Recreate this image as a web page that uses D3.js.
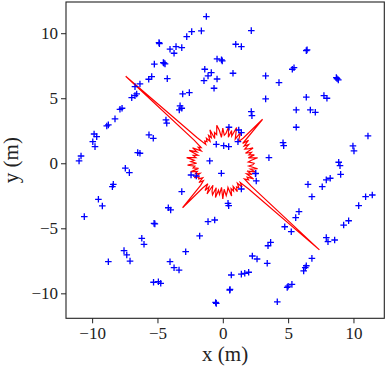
<!DOCTYPE html>
<html lang="en">
<head>
<meta charset="utf-8">
<title>Scan points and polar profile</title>
<script src="https://d3js.org/d3.v7.min.js"></script>
<style>
  body { margin: 0; background: #fff; }
  .tick text { font-family: "Liberation Serif", "DejaVu Serif", serif; }
</style>
</head>
<body>
<script>
// blue scan points (m)
var pointsX = [-2.38,-2.76,-4.88,-4.04,-3.58,-3.14,-3.73,-4.55,-4.42,-5.24,-4.25,-5.67,-5.44,-6.34,-6.72,-6.97,-6.72,-6.59,-3.07,-2.56,
  -7.87,-7.71,-8.25,-8.88,-8.76,-3.27,-3.14,-3.33,-4.35,-4.29,-9.85,-9.95,-9.78,-9.65,-5.65,-5.32,-6.51,-6.34,-10.85,-11.0,
  -7.46,-7.15,-8.38,-2.43,-1.26,-1.64,2.18,0.99,1.42,-0.44,-0.04,6.39,-1.38,-0.88,-1.13,-1.44,-0.44,0.78,-0.67,5.45,
  5.32,3.28,4.3,8.69,8.84,3.28,6.39,7.74,7.97,5.62,6.7,7.08,2.18,2.23,5.62,0.47,1.22,1.42,1.16,-0.5,
  0.07,0.45,4.61,4.66,11.11,9.96,10.04,3.53,-1.0,8.87,8.97,9.02,2.52,2.56,-0.11,6.52,7.92,8.22,-2.03,-8.45,
  -9.52,-9.22,-10.6,-3.14,-4.17,-3.99,-5.26,-6.2,-6.03,-7.56,-7.35,-7.1,-8.76,-2.84,-4.04,-3.73,-3.35,-4.93,-4.75,1.42,
  0.4,0.45,-1.13,-0.62,-1.77,7.61,6.82,5.58,5.83,4.74,5.24,3.66,3.46,2.26,2.62,3.4,0.65,1.42,1.68,1.98,
  0.53,-0.5,4.17,4.93,5.29,6.19,6.31,6.39,6.82,7.92,8.05,8.56,9.25,9.63,10.4,10.93,11.44,
  -0.1,6.45,8.75,-5.2,-4.5,-0.55,0.55,-5.3,-4.85,2.5,5.0];
var pointsY = [10.12,9.74,9.28,8.77,8.97,8.89,8.46,7.74,7.64,7.62,6.51,6.46,6.66,6.1,5.89,5.05,5.2,5.33,5.33,5.43,
  4.15,4.23,3.41,2.87,2.95,4.41,4.23,4.1,3.33,3.08,2.25,1.66,1.28,2.05,2.18,1.92,0.82,0.77,0.56,0.18,
  -0.38,-0.72,-1.62,-0.9,11.28,10.18,10.2,9.15,8.97,8.02,7.87,8.66,7.23,6.97,6.72,6.35,6.48,6.92,5.77,7.35,
  7.23,6.72,6.2,6.59,6.41,4.95,5.08,5.2,5.0,4.1,4.1,3.92,3.97,3.66,2.77,2.77,2.56,2.35,1.66,1.46,
  1.35,1.28,1.58,1.35,2.1,1.33,0.95,0.43,0.18,0.08,-0.18,-0.85,-0.77,-1.36,-0.77,-1.62,-1.28,-1.15,-0.98,-1.8,
  -2.77,-3.28,-4.1,-2.18,-3.42,-3.59,-4.62,-5.77,-6.23,-6.72,-7.05,-7.52,-7.57,-6.8,-7.57,-8.03,-8.21,-9.11,-9.23,-1.98,
  -3.08,-3.26,-4.49,-4.36,-5.59,-1.8,-2.57,-4.18,-3.72,-4.88,-5.26,-6.08,-6.34,-7.13,-7.36,-7.69,-8.59,-8.52,-8.46,-8.38,
  -9.75,-10.77,-10.65,-9.54,-9.31,-8.28,-8.03,-7.88,-7.31,-5.72,-6.03,-5.9,-4.75,-4.42,-3.26,-2.57,-2.44,
  7.95,8.72,6.5,-4.66,7.7,-10.7,-9.7,-9.15,9.2,-0.8,-9.45];

// red polar profile: radius (m) every 3 degrees, starting at 0 deg
var profileStepDeg = 3;
var profileRadius = [2.4,1.95,2.2,2.7,2.0,2.5,2.1,2.35,1.9,2.6,2.2,2.0,2.45,2.1,2.65,2.15,4.55,2.5,2.05,2.3,
  2.75,2.1,2.45,2.95,2.2,2.6,2.05,2.85,2.3,2.15,2.7,2.0,2.55,2.95,2.25,2.45,2.0,2.75,2.15,2.4,
  1.95,2.3,2.05,2.2,1.95,2.8,10.0,2.8,2.05,2.25,1.9,2.6,2.15,2.75,2.0,2.35,2.1,2.8,2.2,2.45,
  2.0,2.7,2.15,2.3,1.9,2.55,2.05,2.25,1.9,2.45,2.1,2.2,1.9,2.35,2.0,2.4,4.6,2.45,1.95,2.5,
  2.1,2.65,1.85,2.3,2.55,1.95,2.7,2.1,2.4,1.85,2.75,2.0,2.5,2.2,1.9,2.6,2.05,2.3,1.95,2.45,
  2.1,2.25,1.9,2.35,2.0,2.8,9.95,2.8,2.05,2.35,2.15,2.65,2.0,2.4,1.95,2.55,2.15,2.7,2.0,2.3];

var tickValues = [-10, -5, 0, 5, 10];
var xLabel = "x (m)", yLabel = "y (m)";

var W = 386, H = 370;
var frame = {left: 66, right: 384.3, top: 2, bottom: 318.3};

var svg = d3.select("body").append("svg")
    .attr("width", W).attr("height", H);

var x = d3.scaleLinear().domain([-12.0, 12.36]).range([frame.left, frame.right]);
var y = d3.scaleLinear().domain([-11.92, 12.4]).range([frame.bottom, frame.top]);

var fmt = function(d) { return d < 0 ? "\u2212" + Math.abs(d) : "" + d; };

var defs = svg.append("defs");
defs.append("clipPath").attr("id", "clip").append("rect")
    .attr("x", frame.left).attr("y", frame.top)
    .attr("width", frame.right - frame.left).attr("height", frame.bottom - frame.top);

var plot = svg.append("g").attr("clip-path", "url(#clip)");

// polar profile
var profile = profileRadius.map(function(r, i) {
  var a = i * profileStepDeg * Math.PI / 180;
  return [r * Math.cos(a), r * Math.sin(a)];
});
plot.append("path")
    .datum(profile)
    .attr("fill", "none")
    .attr("stroke", "#ff0000")
    .attr("stroke-width", 1.2)
    .attr("stroke-linejoin", "miter")
    .attr("d", d3.line()
        .x(function(d) { return x(d[0]); })
        .y(function(d) { return y(d[1]); })
        .curve(d3.curveLinearClosed));

// plus markers
var s = 3.3;
plot.append("g")
  .selectAll("path")
  .data(pointsX.map(function(v, i) { return [v, pointsY[i]]; }))
  .enter().append("path")
    .attr("transform", function(d) { return "translate(" + x(d[0]) + "," + y(d[1]) + ")"; })
    .attr("d", "M" + (-s) + ",0H" + s + "M0," + (-s) + "V" + s)
    .attr("stroke", "#0000ff")
    .attr("stroke-width", 1.3)
    .attr("fill", "none");

// axes
var xAxis = svg.append("g")
    .attr("transform", "translate(0," + frame.bottom + ")")
    .call(d3.axisBottom(x).tickValues(tickValues).tickFormat(fmt).tickSize(5).tickPadding(4).tickSizeOuter(0));
var yAxis = svg.append("g")
    .attr("transform", "translate(" + frame.left + ",0)")
    .call(d3.axisLeft(y).tickValues(tickValues).tickFormat(fmt).tickSize(5).tickPadding(3).tickSizeOuter(0));
[xAxis, yAxis].forEach(function(a) {
  a.select(".domain").remove();
  a.selectAll(".tick line").attr("stroke", "#222").attr("stroke-width", 1);
  a.selectAll(".tick text").attr("fill", "#222").attr("font-size", 17);
});

svg.append("rect")
    .attr("x", frame.left).attr("y", frame.top)
    .attr("width", frame.right - frame.left).attr("height", frame.bottom - frame.top)
    .attr("fill", "none").attr("stroke", "#222").attr("stroke-width", 1.1);

svg.append("text")
    .attr("x", (frame.left + frame.right) / 2)
    .attr("y", 361)
    .attr("text-anchor", "middle")
    .attr("font-family", "Liberation Serif, DejaVu Serif, serif")
    .attr("font-size", 21)
    .attr("fill", "#222")
    .text(xLabel);

svg.append("text")
    .attr("transform", "translate(18," + (frame.top + frame.bottom) / 2 + ") rotate(-90)")
    .attr("text-anchor", "middle")
    .attr("font-family", "Liberation Serif, DejaVu Serif, serif")
    .attr("font-size", 21)
    .attr("fill", "#222")
    .text(yLabel);
</script>
</body>
</html>
